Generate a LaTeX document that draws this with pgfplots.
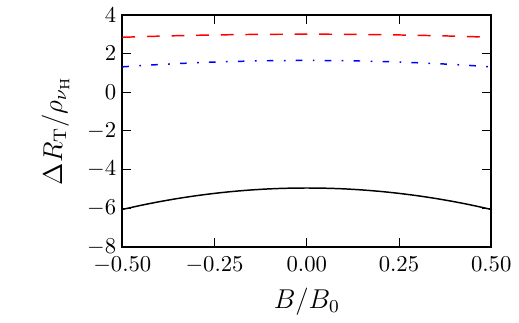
\documentclass[border=0pt]{standalone}
\usepackage{pgfplots}
\pgfplotsset{compat=1.18}
\begin{document}
\begin{tikzpicture}
\begin{axis}[
  scale only axis,
  width=162.6pt, height=102.2pt,
  xmin=-0.5, xmax=0.5, ymin=-8, ymax=4,
  xtick={-0.5,-0.25,0,0.25,0.5},
  ytick={-8,-6,-4,-2,0,2,4},
  xticklabel style={yshift=-1pt,/pgf/number format/.cd,fixed,fixed zerofill,precision=2},
  yticklabel style={xshift=0.8pt},
  tick align=inside,
  major tick length=3.9pt,
  tick style={black, line width=0.45pt},
  axis line style={line width=0.87pt},
  ticklabel style={font=\normalsize},
  label style={font=\fontsize{12}{14}\selectfont},
  xlabel={$B/B_0$},
  ylabel={$\Delta R_\mathrm{T}/\rho_{\nu_\mathrm{H}}$},
  xlabel style={yshift=0.5pt},
  ylabel style={yshift=1pt},
]
\addplot[black, line width=0.65pt, smooth] coordinates {
  (-0.50,-6.070) (-0.45,-5.859) (-0.40,-5.670) (-0.35,-5.504) (-0.30,-5.360)
  (-0.25,-5.238) (-0.20,-5.138) (-0.15,-5.060) (-0.10,-5.004) (-0.05,-4.971)
  (0.00,-4.960) (0.05,-4.971) (0.10,-5.004) (0.15,-5.060) (0.20,-5.138)
  (0.25,-5.238) (0.30,-5.360) (0.35,-5.504) (0.40,-5.670) (0.45,-5.859)
  (0.50,-6.070)
};
\addplot[red, line width=0.65pt, smooth, dash pattern=on 5.65pt off 5.2pt] coordinates {
  (-0.50,2.840) (-0.45,2.870) (-0.40,2.898) (-0.35,2.922) (-0.30,2.942)
  (-0.25,2.960) (-0.20,2.974) (-0.15,2.986) (-0.10,2.994) (-0.05,2.998)
  (0.00,3.000) (0.05,2.998) (0.10,2.994) (0.15,2.986) (0.20,2.974)
  (0.25,2.960) (0.30,2.942) (0.35,2.922) (0.40,2.898) (0.45,2.870)
  (0.50,2.840)
};
\addplot[blue, line width=0.65pt, smooth, dash pattern=on 2.9pt off 4.6pt on 0.75pt off 4.5pt] coordinates {
  (-0.50,1.310) (-0.45,1.373) (-0.40,1.429) (-0.35,1.478) (-0.30,1.521)
  (-0.25,1.558) (-0.20,1.587) (-0.15,1.610) (-0.10,1.627) (-0.05,1.637)
  (0.00,1.640) (0.05,1.637) (0.10,1.627) (0.15,1.610) (0.20,1.587)
  (0.25,1.558) (0.30,1.521) (0.35,1.478) (0.40,1.429) (0.45,1.373)
  (0.50,1.310)
};
\end{axis}
\path[use as bounding box] ([xshift=-53.9pt,yshift=-30.9pt]current axis.south west)
  rectangle ([xshift=9.13pt,yshift=6.52pt]current axis.north east);
\end{tikzpicture}
\end{document}
